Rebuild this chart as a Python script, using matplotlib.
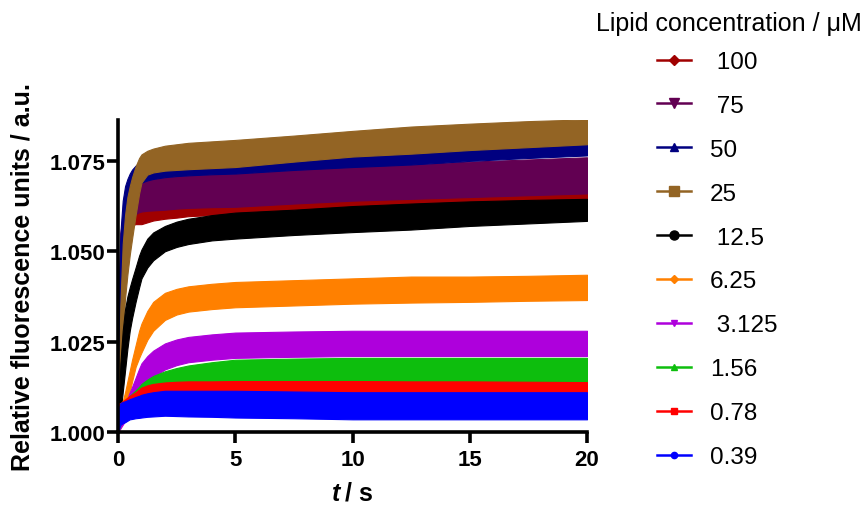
import matplotlib.pyplot as plt
from matplotlib.lines import Line2D
import numpy as np

plt.rcParams['font.family'] = ['Liberation Sans', 'DejaVu Sans']

t = [0, 0.05, 0.1, 0.2, 0.3, 0.4, 0.5, 0.6, 0.75, 0.9, 1, 1.25, 1.5, 2, 2.5, 3, 4, 5,
     7.5, 10, 12.5, 15, 17.5, 20]

# upper / lower edge of each trace, in units of 1e-3 above 1.000
hi_100 = [0, 40, 55, 59.5, 60.5, 61, 61.3, 61.5, 61.7, 61.9, 62, 62.1, 62.3, 62.5, 62.6, 62.8,
          63, 63.2, 64, 65, 65.8, 66.5, 67.2, 68]
lo_100 = [0, 15, 42, 53, 55.5, 56.3, 56.8, 57.2, 57.5, 57.5, 57.5, 58, 58.5, 59, 59.3, 59.7,
          60, 60.3, 61.5, 62.3, 62.8, 63.3, 63.8, 64.4]
hi_75 = [0, 30, 48, 59, 63.5, 65.5, 67, 68, 68.8, 69.3, 69.5, 69.8, 70, 70.5, 70.8, 71,
         71.3, 71.5, 72.5, 73.5, 74, 74.8, 75.4, 76]
lo_75 = [0, 15, 33, 47, 53, 56, 58, 59.3, 60.3, 60.8, 61, 61.2, 61.3, 61.5, 61.8, 62,
         62.2, 62.3, 63.2, 64, 64.5, 65, 65.5, 66]
hi_50 = [0, 45, 55, 64, 68, 70, 71.5, 72.6, 73.7, 74.5, 74.9, 75.4, 75.8, 76.3, 76.7, 77,
         77.5, 78, 79, 79.8, 80.5, 81, 81.5, 82]
lo_50 = [0, 25, 40, 52, 58, 61.5, 64, 65.5, 67.3, 68.4, 69, 69.6, 70, 70.5, 70.8, 71,
         71.3, 71.5, 72.5, 73.3, 74, 75, 75.8, 76.5]
hi_25 = [0, 20, 35, 52, 60, 65, 68, 70.5, 73.5, 75.8, 76.8, 77.8, 78.4, 79.2, 79.6, 80,
         80.4, 80.8, 82, 83.3, 84.5, 85.3, 86, 86.5]
lo_25 = [0, 5, 12, 27, 37, 43.5, 49, 53.5, 60, 66, 69, 71.2, 71.8, 72.3, 72.5, 72.7,
         73, 73.3, 74.8, 76.2, 77, 78, 78.8, 79.6]
hi_12 = [0, 10, 19, 28, 34, 37.5, 40, 42.3, 45.5, 48.8, 50.5, 53.5, 55.2, 57, 58.2, 59,
         60, 60.7, 61.5, 62.5, 63.2, 63.8, 64.2, 64.5]
lo_12 = [0, 2, 5, 11, 17, 23, 28, 31.5, 36, 40, 42.5, 45.5, 47.5, 50, 51.2, 52,
         53, 53.5, 54.5, 55.3, 56, 57, 57.7, 58.4]
hi_6 = [0, 3, 5, 8.5, 11, 14, 17, 20, 24, 28, 30, 33.5, 36, 38.5, 39.6, 40.3,
        41, 41.5, 42, 42.5, 43, 43, 43.2, 43.5]
lo_6 = [0, 0.5, 1, 2.5, 5, 8, 11, 14, 18, 20.5, 22, 25.5, 28, 31, 32.5, 33.3,
        34, 34.5, 35, 35.5, 35.8, 36, 36.3, 36.5]
hi_3 = [0, 3, 4, 6, 7.5, 9.2, 11, 12.5, 15, 17.5, 19, 21, 22.5, 24.5, 25.6, 26.3,
        27, 27.5, 27.8, 28, 28, 28, 28, 28]
lo_3 = [0, 0.5, 1, 2, 3, 4.5, 6, 7.2, 9, 10.8, 12, 13.8, 15.2, 17.3, 18.5, 19.3,
        20, 20.5, 20.8, 21, 21, 21, 21, 21]
hi_1 = [0, 5, 6, 7, 8, 9, 10, 10.6, 11.5, 12.5, 13.3, 14.5, 15.5, 16.8, 17.7, 18.4,
        19.3, 20, 20.3, 20.5, 20.5, 20.5, 20.5, 20.5]
lo_1 = [0, 1, 2, 3, 4, 4.8, 5.5, 6.1, 7, 7.6, 8, 8.8, 9.5, 10.8, 11.7, 12.3,
        13, 13.5, 13.7, 13.8, 13.7, 13.5, 13.5, 13.3]
hi_078 = [5, 8, 8, 8.5, 9, 9.5, 10, 10.4, 11, 11.8, 12.3, 12.9, 13.3, 13.7, 13.9, 14,
          14, 14.1, 14.1, 14.1, 14, 14, 13.9, 13.8]
lo_078 = [0, 3, 4, 5, 6, 6.5, 7, 7.3, 7.8, 8.2, 8.5, 8.8, 9, 9.5, 9.7, 9.8,
          9.9, 10, 10, 10, 9.9, 9.8, 9.7, 9.6]
hi_039 = [0, 7, 8, 8.3, 8.5, 8.8, 9.1, 9.3, 9.7, 10, 10.3, 10.7, 11, 11.4, 11.4, 11.4,
          11.4, 11.4, 11.2, 11, 11, 11, 11, 11]
lo_039 = [-1, 1, 2, 2.4, 2.7, 3.1, 3.5, 3.6, 3.8, 3.9, 4, 4.2, 4.3, 4.5, 4.4, 4.3,
          4.2, 4, 3.8, 3.5, 3.5, 3.5, 3.5, 3.5]

labels = [' 100', ' 75', '50', '25', ' 12.5', '6.25', ' 3.125', '1.56', '0.78', '0.39']
highs = [hi_100, hi_75, hi_50, hi_25, hi_12, hi_6, hi_3, hi_1, hi_078, hi_039]
lows = [lo_100, lo_75, lo_50, lo_25, lo_12, lo_6, lo_3, lo_1, lo_078, lo_039]
colors = ['#A00000', '#620052', '#000080', '#936424', '#000000',
          '#FF8000', '#AE00DC', '#0DBE0D', '#FF0000', '#0000FF']
markers = ['D', 'v', '^', 's', 'o', 'D', 'v', '^', 's', 'o']
msizes = [5.5, 7, 6, 7, 6.5, 4, 5, 4.5, 5, 4.5]

fig = plt.figure(figsize=(8.64, 5.06), dpi=100)
ax = fig.add_axes([0.1366, 0.1443, 0.5428, 0.6172])

x = np.array(t)
for hi, lo, c in zip(highs, lows, colors):
  ax.fill_between(x, 1 + np.array(lo) / 1000, 1 + np.array(hi) / 1000,
                  color=c, lw=0.8, ec=c)

ax.set_xlim(0, 20)
ax.set_ylim(1.0, 1.0864)
ax.set_xticks([0, 5, 10, 15, 20])
ax.set_yticks([1.000, 1.025, 1.050, 1.075])
ax.set_yticklabels(['1.000', '1.025', '1.050', '1.075'])
for s in ['top', 'right']:
  ax.spines[s].set_visible(False)
for s in ['left', 'bottom']:
  ax.spines[s].set_linewidth(2.6)
ax.tick_params(direction='out', length=8, width=2.6, labelsize=16)
ax.tick_params(axis='y', pad=1)
ax.tick_params(axis='x', pad=4)
for lab in ax.get_xticklabels() + ax.get_yticklabels():
  lab.set_fontweight('bold')

fig.text(23 / 864, 1 - 277 / 506, 'Relative fluorescence units / a.u.',
         rotation=90, fontsize=18, fontweight='bold', ha='center', va='center')
fig.text(340 / 864, 1 - 494 / 506, 't', fontsize=18, fontweight='bold',
         fontstyle='italic', ha='right', va='center')
fig.text(345 / 864, 1 - 494 / 506, '/ s', fontsize=18, fontweight='bold',
         ha='left', va='center')

fig.text(596 / 864, 1 - 24 / 506, 'Lipid concentration / \u03bcM', fontsize=18,
         ha='left', va='center')

handles = [Line2D([], [], color=c, marker=m, ms=ms, lw=1.8)
           for c, m, ms in zip(colors, markers, msizes)]
fig.legend(handles, labels, loc='upper left', bbox_to_anchor=(657 / 864, 1 - 52 / 506),
           frameon=False, fontsize=17.5, handlelength=1.4, handletextpad=0.78,
           labelspacing=0.9, borderpad=0, borderaxespad=0)

fig.savefig('out.png', dpi=100)
